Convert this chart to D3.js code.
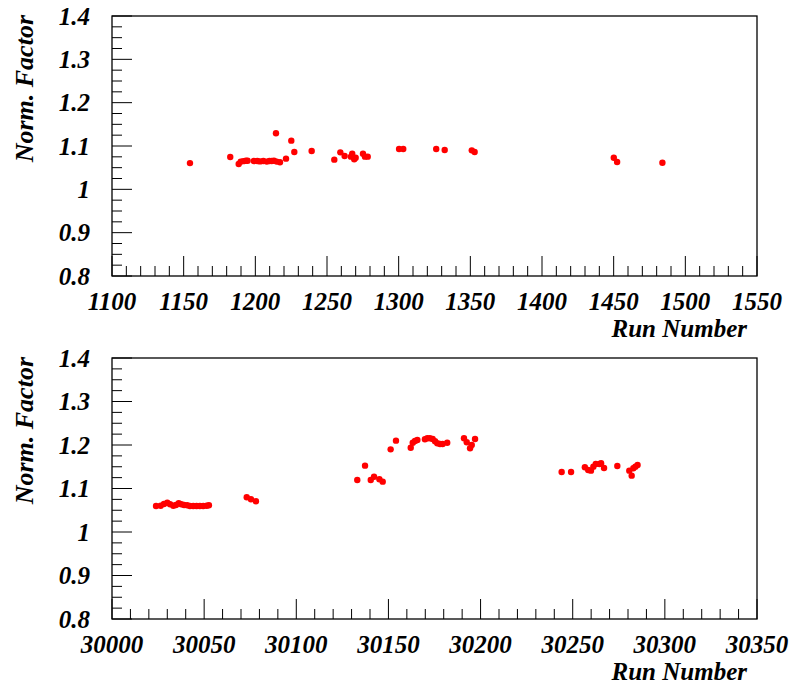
<!DOCTYPE html>
<html><head><meta charset="utf-8">
<script src="https://cdn.jsdelivr.net/npm/d3@7"></script>
<style>body{margin:0;background:#fff}</style>
</head><body><svg id="c" width="793" height="686"></svg>
<script>
// Panel 1 (runs 1100-1550)
const runs1 = [1154.4,1182.5,1188.4,1189.8,1191.6,1193.4,1194.6,1199,1201.4,1203.3,1205.6,1208,1209.8,1211.4,1213,1214.9,1217.2,1214.4,1221.4,1225.1,1227.2,1239.3,1255.1,1259.3,1262.3,1267.6,1266.7,1270,1269,1275.1,1276.5,1278.4,1300.3,1303.2,1326.2,1332.1,1351,1353,1450.1,1452.4,1484];
const vals1 = [1.0605,1.0746,1.0585,1.064,1.065,1.066,1.066,1.0654,1.0654,1.0645,1.0654,1.064,1.0654,1.0654,1.066,1.064,1.0624,1.1293,1.0708,1.1123,1.0862,1.0885,1.0685,1.0854,1.077,1.0823,1.0754,1.0731,1.0693,1.0823,1.0754,1.0754,1.093,1.093,1.093,1.0908,1.09,1.086,1.073,1.063,1.0615];
// Panel 2 (runs 30000-30350)
const runs2 = [30023.9,30026.4,30028.2,30030,30031.5,30033.3,30034.7,30036.2,30037.6,30039.1,30040.8,30042.3,30044.1,30045.9,30047.7,30049.5,30051.4,30052.6,30073.1,30075.4,30078.1,30133.1,30137.3,30140.4,30142.2,30145.1,30146.9,30151.2,30154.1,30162.1,30163.2,30164.4,30165.7,30169.8,30171.1,30172.5,30174,30175.3,30176.5,30178,30179.4,30181.9,30191,30192.5,30194.3,30195.2,30197,30244,30249.1,30256.6,30258.4,30259.9,30261.2,30262.5,30264.5,30265.4,30267,30274.2,30280.7,30282,30282.9,30284,30285.2];
const vals2 = [1.0598,1.0605,1.0644,1.0674,1.0637,1.0605,1.062,1.066,1.0637,1.062,1.0614,1.0598,1.0598,1.0598,1.0598,1.0598,1.0605,1.0614,1.0798,1.0752,1.0706,1.1195,1.1525,1.1195,1.1271,1.1211,1.1157,1.19,1.21,1.1938,1.2053,1.2092,1.2115,1.2131,1.2154,1.2154,1.2138,1.2085,1.2039,1.2023,1.2023,1.2053,1.2154,1.2062,1.1924,1.2,1.2138,1.1379,1.1379,1.1487,1.1425,1.141,1.1502,1.1563,1.1563,1.1579,1.1471,1.1517,1.141,1.1295,1.1464,1.1502,1.154];
const xTicks1 = [1100,1150,1200,1250,1300,1350,1400,1450,1500,1550];
const xTicks2 = [30000,30050,30100,30150,30200,30250,30300,30350];
const yTicks = [0.8,0.9,1.0,1.1,1.2,1.3,1.4];
const yLabels = ["0.8","0.9","1","1.1","1.2","1.3","1.4"];
const xTitle = "Run Number", yTitle = "Norm. Factor";

const FONT = "Liberation Serif";
const svg = d3.select("#c");
function txt(sel){
  return sel.attr("font-family",FONT).attr("font-weight","bold").attr("font-style","italic").attr("fill","#000");
}
function panel(top, bottom, xdom, xticks, runs, vals){
  const L=112,R=757;
  const x=d3.scaleLinear().domain(xdom).range([L,R]);
  const y=d3.scaleLinear().domain([0.8,1.4]).range([bottom,top]);
  const g=svg.append("g");
  const xm=d3.range(xdom[0],xdom[1]+0.001,10);
  g.selectAll(null).data(xm).enter().append("line")
    .attr("x1",d=>x(d)).attr("x2",d=>x(d))
    .attr("y1",bottom).attr("y2",d=>bottom-((Math.round(d-xdom[0])%50===0)?20:10))
    .attr("stroke","#000").attr("stroke-width",1);
  const ym=d3.range(0,25).map(i=>0.8+i*0.025);
  g.selectAll(null).data(ym).enter().append("line")
    .attr("y1",d=>y(d)).attr("y2",d=>y(d))
    .attr("x1",L).attr("x2",(d,i)=>L+(i%4===0?20:10))
    .attr("stroke","#000").attr("stroke-width",1);
  g.append("rect").attr("x",L).attr("y",top).attr("width",R-L).attr("height",bottom-top)
    .attr("fill","none").attr("stroke","#000").attr("stroke-width",1.3);
  txt(g.selectAll(null).data(xticks).enter().append("text"))
    .attr("x",d=>x(d)).attr("y",bottom+34).attr("text-anchor","middle")
    .attr("font-size",25).text(d=>d);
  txt(g.selectAll(null).data(yTicks).enter().append("text"))
    .attr("x",90).attr("y",d=>y(d)+8.5).attr("text-anchor","end")
    .attr("font-size",25).text((d,i)=>yLabels[i]);
  txt(g.append("text")).attr("x",747).attr("y",bottom+61).attr("text-anchor","end")
    .attr("font-size",25).text(xTitle);
  txt(g.append("text")).attr("transform",`translate(33,${top-1}) rotate(-90)`).attr("text-anchor","end")
    .attr("font-size",26).text(yTitle);
  g.selectAll(null).data(runs).enter().append("circle")
    .attr("cx",(d)=>x(d)).attr("cy",(d,i)=>y(vals[i])).attr("r",3.2).attr("fill","#ff0000");
}
panel(16,276,[1100,1550],xTicks1,runs1,vals1);
panel(358,619,[30000,30350],xTicks2,runs2,vals2);
</script></body></html>
